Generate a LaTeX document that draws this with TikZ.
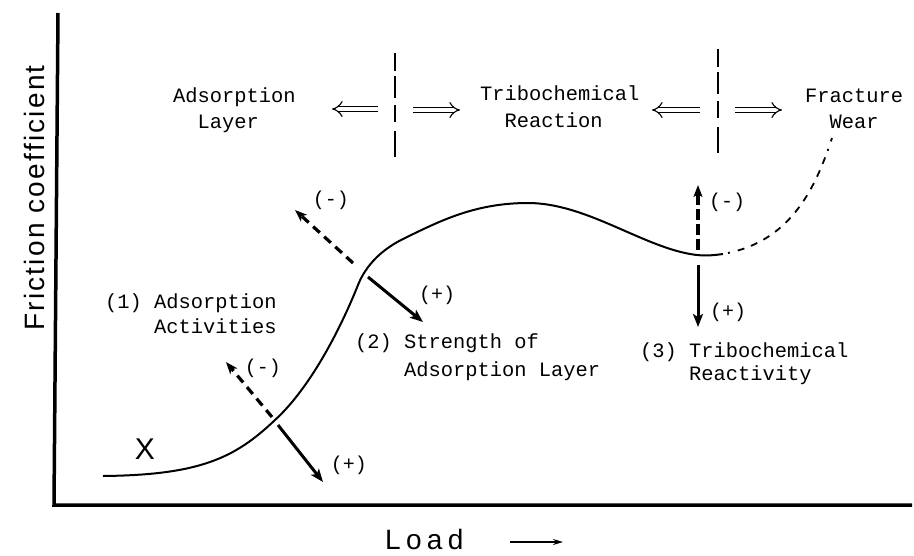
\documentclass[tikz,border=0pt]{standalone}
\usepackage{fontspec}
\newfontfamily\axisfont{Liberation Sans}[LetterSpace=8]
\newfontfamily\loadfont{Liberation Sans}[LetterSpace=19]
\newfontfamily\xfont{Liberation Sans}
\newfontfamily\monofont{Liberation Mono}
\usetikzlibrary{arrows.meta}
\begin{document}
\begin{tikzpicture}[x=1pt,y=-1pt,
  lbl/.style={font=\fontsize{20.4}{20.4}\selectfont\monofont, inner sep=0pt, anchor=base west},
  sgn/.style={font=\fontsize{20}{20}\selectfont\monofont, inner sep=0pt},
  solidarr/.style={line width=3pt, -{Stealth[length=13pt,width=10pt,inset=3pt]}},
  dasharr/.style={line width=3.2pt, dash pattern=on 9pt off 6pt, -{Stealth[length=12pt,width=9pt,inset=3pt]}},
  dbl/.style={double distance=4.5pt, line width=1.1pt, -{Implies}},
  divider/.style={line width=1.3pt, dash pattern=on 18pt off 5pt on 22pt off 7pt on 17pt off 9pt on 30pt off 5pt},
  axis/.style={line width=3.5pt},
  curve/.style={line width=2pt},
  ]
\useasboundingbox (0,0) rectangle (914,555);

% axes
\coordinate (ytop) at (58,13);
\coordinate (origin) at (54,505);
\coordinate (xend) at (912,505);
\draw[axis] (ytop) -- (origin) -- (xend);
\node[font=\fontsize{28}{28}\selectfont\axisfont, rotate=90, inner sep=0pt] (ylabel) at (34,198) {Friction coefficient};
\node[font=\fontsize{28}{28}\selectfont\loadfont, inner sep=0pt, text depth=0pt, anchor=base west] (xlabel) at (385,549) {Load};
\coordinate (la1) at (510,542);
\coordinate (la2) at (563,542);
\draw[line width=1.5pt, -{Stealth[length=10pt,width=6pt]}] (la1) -- (la2);

% top regime labels
\node[lbl] (adsA) at (173,102) {Adsorption};
\node[lbl] (adsB) at (197.5,128) {Layer};
\node[lbl] (triA) at (480,100) {Tribochemical};
\node[lbl] (triB) at (504.5,127) {Reaction};
\node[lbl] (fraA) at (805,102) {Fracture};
\node[lbl] (fraB) at (829.5,128) {Wear};

% dividers and double arrows
\coordinate (d1t) at (395,53);
\coordinate (d1b) at (395,157);
\draw[divider] (d1t) -- (d1b);
\coordinate (d2t) at (718,49);
\coordinate (d2b) at (718,153);
\draw[divider] (d2t) -- (d2b);
\coordinate (a1s) at (378,109); \coordinate (a1e) at (332,109);
\coordinate (a2s) at (413,110); \coordinate (a2e) at (460,110);
\coordinate (a3s) at (700,110); \coordinate (a3e) at (652,110);
\coordinate (a4s) at (735,110); \coordinate (a4e) at (782,110);
\draw[dbl] (a1s) -- (a1e);
\draw[dbl] (a2s) -- (a2e);
\draw[dbl] (a3s) -- (a3e);
\draw[dbl] (a4s) -- (a4e);

% main curve
\coordinate (c0) at (103,476);
\coordinate (c1) at (275,420);
\coordinate (c2) at (358,285);
\coordinate (c3) at (405,238);
\coordinate (c4) at (528,203);
\coordinate (c5) at (690,254);
\coordinate (c6) at (723,254);
\draw[curve] (c0) .. controls (200,475) and (235,458) .. (c1)
  .. controls (310,388) and (340,330) .. (c2)
  .. controls (366,265) and (382,249) .. (c3)
  .. controls (440,221) and (475,203) .. (c4)
  .. controls (585,203) and (640,245) .. (c5)
  .. controls (705,256.7) and (715,255) .. (c6);
\coordinate (cs) at (728,253);
\coordinate (ce) at (832,138);
\draw[line width=1.8pt, dash pattern=on 2pt off 8pt on 7pt off 7pt on 7pt off 7pt on 7pt off 7pt on 7pt off 7pt on 7pt off 7pt on 7pt off 7pt on 7pt off 7pt on 7pt off 7pt on 7pt off 7pt on 7pt off 7pt]
  (cs) .. controls (790,240) and (815,190) .. (ce);

\node[font=\fontsize{30}{30}\selectfont\xfont, inner sep=0pt] (xmark) at (145,449) {X};

% factor (1)
\coordinate (p1m) at (272,417); \coordinate (p1mt) at (226,362);
\coordinate (p1p) at (278,425); \coordinate (p1pt) at (323,482);
\draw[dasharr] (p1m) -- (p1mt);
\draw[solidarr] (p1p) -- (p1pt);
\node[sgn] (s1m) at (263,368) {(-)};
\node[sgn] (s1p) at (349,465) {(+)};
\node[lbl] (f1a) at (105,308) {(1) Adsorption};
\node[lbl] (f1b) at (154,333) {Activities};

% factor (2)
\coordinate (p2m) at (353,263); \coordinate (p2mt) at (295,210);
\coordinate (p2p) at (368,277); \coordinate (p2pt) at (423,322);
\draw[dasharr] (p2m) -- (p2mt);
\draw[solidarr] (p2p) -- (p2pt);
\node[sgn] (s2m) at (331,200) {(-)};
\node[sgn] (s2p) at (437,295) {(+)};
\node[lbl] (f2a) at (355,348) {(2) Strength of};
\node[lbl] (f2b) at (404,376) {Adsorption Layer};

% factor (3)
\coordinate (p3m) at (698,250); \coordinate (p3mt) at (698,185);
\coordinate (p3p) at (698,265); \coordinate (p3pt) at (698,327);
\draw[dasharr, dash pattern=on 11pt off 4pt] (p3m) -- (p3mt);
\draw[solidarr] (p3p) -- (p3pt);
\node[sgn] (s3m) at (727,202) {(-)};
\node[sgn] (s3p) at (728,312) {(+)};
\node[lbl] (f3a) at (640,357) {(3) Tribochemical};
\node[lbl] (f3b) at (689,380) {Reactivity};
\end{tikzpicture}
\end{document}
